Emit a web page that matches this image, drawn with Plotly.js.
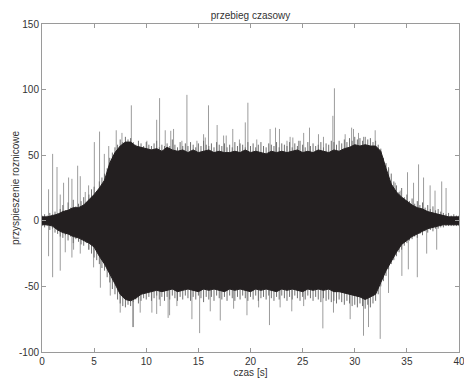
<!DOCTYPE html>
<html>
<head>
<meta charset="utf-8">
<script src="https://cdn.plot.ly/plotly-3.0.1.min.js"></script>
<style>html,body{margin:0;padding:0;background:#fff;}#chart{width:464px;height:378px;}</style>
</head>
<body>
<div id="chart"></div>
<script>
var envTime = [0,0.5,1,1.5,2,2.5,3,3.5,4,4.5,5,5.5,6,6.5,7,7.5,8,8.5,9,9.5,
  10,10.5,11,11.5,12,12.5,13,13.5,14,14.5,15,15.5,16,16.5,17,17.5,18,18.5,19,19.5,
  20,20.5,21,21.5,22,22.5,23,23.5,24,24.5,25,25.5,26,26.5,27,27.5,28,28.5,29,29.5,
  30,30.5,31,31.5,32,32.5,33,33.5,34,34.5,35,35.5,36,36.5,37,37.5,38,38.5,39,39.5,40];
var envUpper = [3,3,4,5,7,8,10,10,12,16,20,25,31,44,52,57,60,60,57,56,
  55,54,55,53,56,54,53,54,52,54,52,53,54,52,53,52,52,53,52,54,
  52,53,52,51,53,52,53,52,53,54,52,53,52,54,53,52,54,53,55,56,
  58,57,58,57,57,53,40,28,22,18,15,12,10,9,7,6,5,4,3,3,3];
var envLower = [-3,-3,-4,-7,-9,-10,-12,-13,-15,-17,-20,-27,-33,-40,-48,-56,-60,-61,-59,-56,
  -55,-54,-53,-54,-53,-52,-54,-53,-52,-53,-54,-52,-53,-52,-53,-54,-52,-53,-52,-53,
  -54,-52,-53,-52,-53,-54,-52,-53,-52,-53,-54,-52,-53,-52,-53,-52,-54,-54,-55,-56,
  -57,-58,-60,-58,-56,-47,-38,-31,-24,-18,-15,-12,-10,-8,-6,-5,-4,-3,-3,-3,-3];

// Ragged fringe around the core, every 0.25 s
var fringeTime = [0,0.25,0.5,0.75,1,1.25,1.5,1.75,2,2.25,2.5,2.75,3,3.25,3.5,3.75,4,4.25,4.5,4.75,
  5,5.25,5.5,5.75,6,6.25,6.5,6.75,7,7.25,7.5,7.75,8,8.25,8.5,8.75,9,9.25,9.5,9.75,
  10,10.25,10.5,10.75,11,11.25,11.5,11.75,12,12.25,12.5,12.75,13,13.25,13.5,13.75,14,14.25,14.5,14.75,
  15,15.25,15.5,15.75,16,16.25,16.5,16.75,17,17.25,17.5,17.75,18,18.25,18.5,18.75,19,19.25,19.5,19.75,
  20,20.25,20.5,20.75,21,21.25,21.5,21.75,22,22.25,22.5,22.75,23,23.25,23.5,23.75,24,24.25,24.5,24.75,
  25,25.25,25.5,25.75,26,26.25,26.5,26.75,27,27.25,27.5,27.75,28,28.25,28.5,28.75,29,29.25,29.5,29.75,
  30,30.25,30.5,30.75,31,31.25,31.5,31.75,32,32.25,32.5,32.75,33,33.25,33.5,33.75,34,34.25,34.5,34.75,
  35,35.25,35.5,35.75,36,36.25,36.5,36.75,37,37.25,37.5,37.75,38,38.25,38.5,38.75,39,39.25,39.5,39.75,40];
var fringeUpper = [4,5,4,6,5,7,6,9, 12,8,14,10,16,11,13,15, 18,14,20,24,26,22,30,33,
  36,40,48,52,56,58,62,60, 64,62,63,60,58,61,59,57, 60,58,57,59,61,56,58,57,
  59,57,62,58,56,60,57,59, 57,60,58,56,59,57,61,58, 57,59,56,60,58,57,59,56,
  58,56,60,57,59,58,56,60, 57,59,56,58,60,57,56,59, 58,57,60,56,59,58,57,60,
  56,59,57,61,58,56,60,57, 59,57,58,60,56,59,58,61, 60,58,61,59,62,60,63,61,
  64,62,63,61,64,62,63,60, 61,58,55,48,44,40,36,30, 27,22,25,18,20,15,17,13,
  15,12,14,10,12,9,11,8, 9,7,6,5,6,4,5,4, 4];
var fringeLower = [-4,-5,-4,-7,-6,-9,-10,-12, -13,-11,-15,-12,-17,-14,-16,-18, -19,-17,-22,-25,-28,-30,-33,-36,
  -38,-43,-47,-52,-56,-60,-63,-65, -66,-64,-65,-62,-60,-63,-61,-59, -60,-58,-61,-59,-57,-60,-58,-61,
  -58,-60,-57,-59,-61,-58,-60,-57, -59,-61,-58,-60,-57,-59,-62,-58, -60,-58,-61,-57,-59,-60,-58,-61,
  -57,-59,-61,-58,-60,-57,-59,-61, -58,-60,-57,-61,-59,-58,-60,-57, -59,-61,-58,-60,-57,-59,-61,-58,
  -60,-57,-59,-61,-58,-60,-57,-59, -61,-58,-60,-62,-59,-61,-60,-62, -61,-63,-60,-62,-64,-61,-63,-65,
  -64,-66,-63,-65,-67,-64,-66,-63, -61,-56,-50,-46,-42,-37,-33,-30, -27,-24,-22,-19,-17,-15,-14,-12,
  -13,-10,-11,-8,-9,-7,-8,-6, -6,-5,-5,-4,-4,-4,-4,-4, -4];

// Isolated peaks (time [s], value)
var peakTime = [0.63,1.02,1.44,1.75,2.07,2.55,2.87,3.42,3.67,4.15,4.47,5.02,5.52,5.98,6.4,7.12,7.67,8.57,
  10.06,11.0,11.28,11.82,12.35,12.62,13.42,13.9,14.86,15.5,15.66,15.97,16.8,17.42,17.67,18.3,18.94,19.5,19.75,
  20.6,21.88,22.4,22.78,23.5,23.8,24.06,24.6,25.1,25.66,26.52,27.0,27.9,28.05,29.08,29.7,29.88,30.36,30.84,
  31.96,32.44,33.24,33.88,34.36,35.06,35.64,36.12,36.6,37.23,37.7,38.34,38.76];
var peakValue = [24,51,41,20,29,33,32,42,34,22,27,60,68,51,57,69,67,88,
  61,77,93.5,69,68.6,70,61,96,61,66,63.5,88,73,65,65,70,62,75,90,
  62,70,71,70,61,64,63.5,61,67,71,66,64,80,101,66,71,70,67,64,
  69,50,41,29,23,37,29,43,33,27,23,30,25];
var troughTime = [0.63,1.02,1.75,2.23,2.87,3.03,3.67,4.47,4.95,5.6,6.4,6.55,7.5,8.7,8.78,9.42,10.54,11.0,11.34,12.1,12.24,
  12.94,14.38,15.12,16.14,17.1,18.38,19.66,20.78,21.82,22.84,23.96,25.1,26.94,27.96,29.56,30.84,31.32,32.44,
  33.24,34.52,35.14,36.0,36.9,37.86];
var troughValue = [-27,-43,-38,-24,-28,-22,-25,-22,-35.5,-51,-38,-57,-70,-81,-81,-70,-70,-71,-65,-74,-72,
  -65,-75,-85.6,-69,-76,-67,-72,-66,-79.5,-66,-69,-65,-82,-70,-75,-87.6,-81,-90,
  -55,-42,-37,-43,-25,-22];

var xTickVals = [0,5,10,15,20,25,30,35,40];
var xTickText = ['0','5','10','15','20','25','30','35','40'];
var yTickVals = [-100,-50,0,50,100,150];
var yTickText = ['-100','-50','0','50','100','150'];

function spikes(ts, vs) {
  var sx = [], sy = [];
  for (var i = 0; i < ts.length; i++) {
    sx.push(ts[i], ts[i], null);
    sy.push(0, vs[i], null);
  }
  return {x: sx, y: sy};
}
var pk = spikes(peakTime, peakValue);
var tr = spikes(troughTime, troughValue);
var fu = spikes(fringeTime, fringeUpper);
var fl = spikes(fringeTime, fringeLower);

// closed polygon of the core
var px = envTime.concat(envTime.slice().reverse());
var py = envUpper.concat(envLower.slice().reverse());

var font = 'Arial, "Liberation Sans", Helvetica, sans-serif';
var data = [
  {x: pk.x.concat(tr.x), y: pk.y.concat(tr.y), type: 'scatter', mode: 'lines', line: {color: '#9c9c9c', width: 1}, hoverinfo: 'skip', showlegend: false},
  {x: fu.x.concat(fl.x), y: fu.y.concat(fl.y), type: 'scatter', mode: 'lines', line: {color: '#6f6f6f', width: 1}, hoverinfo: 'skip', showlegend: false},
  {x: px, y: py, type: 'scatter', mode: 'lines', fill: 'toself', fillcolor: '#231f20', line: {color: '#231f20', width: 1}, showlegend: false}
];
var axisCommon = {
  showgrid: false, zeroline: false, showline: true, mirror: 'ticks',
  linecolor: '#9a9a9a', linewidth: 1, ticks: 'inside', ticklen: 4, tickcolor: '#9a9a9a',
  tickfont: {family: font, size: 10, color: '#333'}, tickmode: 'array', ticklabeloverflow: 'allow'
};
var layout = {
  width: 464, height: 378,
  margin: {l: 42, r: 5, t: 24, b: 26},
  paper_bgcolor: '#fff', plot_bgcolor: '#fff',
  title: {text: 'przebieg czasowy', font: {family: font, size: 10, color: '#333'}, x: 0.5, xref: 'paper', xanchor: 'center', y: 0.96, yanchor: 'middle', yref: 'container'},
  xaxis: Object.assign({}, axisCommon, {range: [0, 40], tickvals: xTickVals, ticktext: xTickText,
    title: {text: 'czas [s]', font: {family: font, size: 10, color: '#333'}, standoff: 6}}),
  yaxis: Object.assign({}, axisCommon, {range: [-100, 150], tickvals: yTickVals, ticktext: yTickText}),
  annotations: [{text: 'przyspieszenie roznicowe', xref: 'paper', yref: 'paper', x: -0.065, y: 0.5,
    xanchor: 'center', yanchor: 'middle', textangle: -90, showarrow: false,
    font: {family: font, size: 10, color: '#333'}}],
  showlegend: false
};
Plotly.newPlot('chart', data, layout, {staticPlot: true, displayModeBar: false});
</script>
</body>
</html>
